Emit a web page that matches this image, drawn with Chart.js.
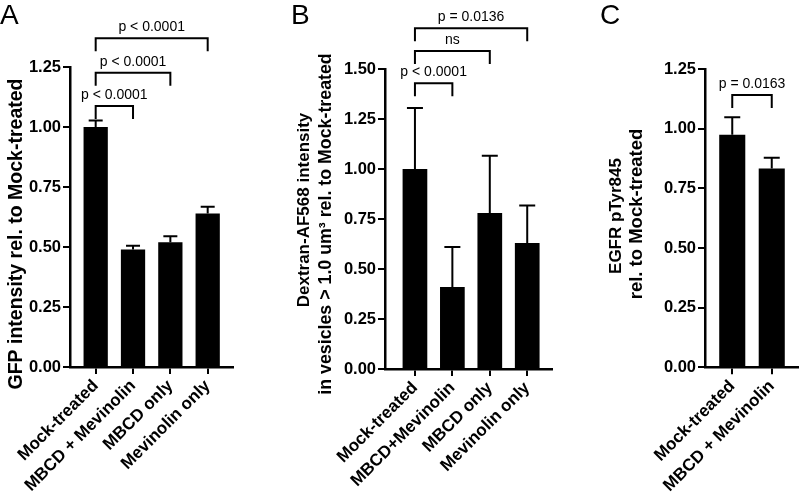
<!DOCTYPE html>
<html>
<head>
<meta charset="utf-8">
<script src="https://cdn.jsdelivr.net/npm/chart.js@4.4.1/dist/chart.umd.min.js"></script>
<style>
  html, body { margin: 0; padding: 0; background: #fff; overflow: hidden; width: 799px; height: 504px; }
  canvas { position: absolute; top: 0; }
  .letter { position: absolute; top: 1px; font-family: "Liberation Sans", Arial, sans-serif; font-size: 28px; line-height: 28px; color: #000; }
</style>
</head>
<body>
<canvas id="chartA" style="left:0px" width="265" height="504"></canvas>
<canvas id="chartB" style="left:265px" width="300" height="504"></canvas>
<canvas id="chartC" style="left:555px" width="260" height="504"></canvas>
<div class="letter" style="left:0px">A</div>
<div class="letter" style="left:291px">B</div>
<div class="letter" style="left:600px">C</div>
<script>
var FONT = '"Liberation Sans", Arial, sans-serif';

/* panel A: GFP intensity */
var labelsA = ['Mock-treated', 'MBCD + Mevinolin', 'MBCD only', 'Mevinolin only'];
var valuesA = [1.0, 0.49, 0.52, 0.64];
var errorsA = [0.027, 0.015, 0.025, 0.028];
var pairsA = [[0, 1], [0, 2], [0, 3]];
var levelsA = [1.0875, 1.226, 1.37];
var pTextA = ['p < 0.0001', 'p < 0.0001', 'p < 0.0001'];

/* panel B: dextran uptake */
var labelsB = ['Mock-treated', 'MBCD+Mevinolin', 'MBCD only', 'Mevinolin only'];
var valuesB = [1.0, 0.41, 0.78, 0.63];
var errorsB = [0.305, 0.20, 0.286, 0.187];
var pairsB = [[0, 1], [0, 2], [0, 3]];
var levelsB = [1.4285, 1.59, 1.7035];
var pTextB = ['p < 0.0001', 'ns', 'p = 0.0136'];

/* panel C: EGFR pTyr845 */
var labelsC = ['Mock-treated', 'MBCD + Mevinolin'];
var valuesC = [0.975, 0.833];
var errorsC = [0.073, 0.045];
var pairsC = [[0, 1]];
var levelsC = [1.141];
var pTextC = ['p = 0.0163'];

function makePanel(p) {
  var positions = p.labels.map(function(l, i) { return i; });
  var points = p.values.map(function(v, i) { return {x: i, y: v}; });

  // error bars, brackets and axis title drawn on top of the bars
  var extras = {
    id: 'extras',
    afterDatasetsDraw: function(chart) {
      var ctx = chart.ctx;
      var xs = chart.scales.x;
      var ys = chart.scales.y;
      var bars = chart.getDatasetMeta(0).data;
      ctx.save();
      ctx.strokeStyle = '#000';
      ctx.fillStyle = '#000';
      ctx.lineWidth = 2;

      bars.forEach(function(bar, i) {
        var top = ys.getPixelForValue(p.values[i] + p.errors[i]);
        ctx.beginPath();
        ctx.moveTo(bar.x, bar.y);
        ctx.lineTo(bar.x, top);
        ctx.moveTo(bar.x - p.cap / 2, top);
        ctx.lineTo(bar.x + p.cap / 2, top);
        ctx.stroke();
      });

      ctx.font = '14px ' + FONT;
      ctx.textAlign = 'center';
      ctx.textBaseline = 'middle';
      p.pairs.forEach(function(pair, i) {
        var x1 = xs.getPixelForValue(pair[0]);
        var x2 = xs.getPixelForValue(pair[1]);
        var y = ys.getPixelForValue(p.levels[i]);
        ctx.beginPath();
        ctx.moveTo(x1, y + p.leg);
        ctx.lineTo(x1, y);
        ctx.lineTo(x2, y);
        ctx.lineTo(x2, y + p.leg);
        ctx.stroke();
        ctx.fillText(p.pTexts[i], (x1 + x2) / 2, y - 11);
      });

      p.title.forEach(function(line, i) {
        ctx.save();
        ctx.font = 'bold ' + p.titleSize[i] + 'px ' + FONT;
        ctx.translate(p.titleX[i], p.titleY[i]);
        ctx.rotate(-Math.PI / 2);
        ctx.fillText(line, 0, 0);
        ctx.restore();
      });
      ctx.restore();
    }
  };

  var axisGrid = { display: true, drawOnChartArea: false, drawTicks: true, tickLength: 7, lineWidth: 2, color: '#000', offset: false };
  var axisBorder = { display: true, color: '#000', width: 2.5 };

  return new Chart(document.getElementById(p.id), {
    type: 'bar',
    data: {
      datasets: [{
        data: points,
        backgroundColor: '#000',
        borderWidth: 0,
        categoryPercentage: 1,
        barPercentage: p.barPct
      }]
    },
    options: {
      responsive: false,
      animation: false,
      layout: { padding: { top: p.padTop, right: p.padRight, left: 0, bottom: 0 } },
      plugins: { legend: { display: false }, tooltip: { enabled: false } },
      scales: {
        x: {
          type: 'linear',
          min: p.xMin,
          max: p.xMax,
          offset: false,
          grid: axisGrid,
          border: axisBorder,
          afterBuildTicks: function(s) {
            s.ticks = positions.map(function(v) { return {value: v}; });
          },
          afterFit: function(s) { s.height = p.xHeight; },
          ticks: {
            autoSkip: false,
            minRotation: 45,
            maxRotation: 45,
            padding: 2,
            color: '#000',
            font: { family: FONT, size: 17, weight: 'bold' },
            callback: function(v) { return p.labels[v]; }
          }
        },
        y: {
          min: 0,
          max: p.yMax,
          grid: axisGrid,
          border: axisBorder,
          afterFit: function(s) { s.width = p.yWidth; },
          ticks: {
            stepSize: 0.25,
            padding: 2,
            color: '#000',
            font: { family: FONT, size: 16.5, weight: 'bold' },
            callback: function(v) { return v.toFixed(2); }
          }
        }
      }
    },
    plugins: [extras]
  });
}

makePanel({
  id: 'chartA', labels: labelsA, values: valuesA, errors: errorsA,
  pairs: pairsA, levels: levelsA, pTexts: pTextA,
  yMax: 1.25, xMin: -0.688, xMax: 3.686,
  yWidth: 70, padTop: 67, padRight: 31.7, xHeight: 137,
  barPct: 0.65, cap: 14, leg: 13,
  title: ['GFP intensity rel. to Mock-treated'], titleSize: [19.5], titleX: [17], titleY: [234]
});

makePanel({
  id: 'chartB', labels: labelsB, values: valuesB, errors: errorsB,
  pairs: pairsB, levels: levelsB, pTexts: pTextB,
  yMax: 1.5, xMin: -0.80, xMax: 3.67,
  yWidth: 120, padTop: 69, padRight: 12.7, xHeight: 135,
  barPct: 0.66, cap: 16, leg: 13,
  title: ['Dextran-AF568 intensity', 'in vesicles > 1.0 um\u00b3 rel. to Mock-treated'],
  titleSize: [17, 17.8], titleX: [39, 61], titleY: [210, 224]
});

makePanel({
  id: 'chartC', labels: labelsC, values: valuesC, errors: errorsC,
  pairs: pairsC, levels: levelsC, pTexts: pTextC,
  yMax: 1.25, xMin: -0.69, xMax: 1.69,
  yWidth: 150, padTop: 69, padRight: 16, xHeight: 136.7,
  barPct: 0.66, cap: 16, leg: 13,
  title: ['EGFR pTyr845', 'rel. to Mock-treated'], titleSize: [17, 18.5], titleX: [61, 82], titleY: [216, 214]
});
</script>
</body>
</html>
